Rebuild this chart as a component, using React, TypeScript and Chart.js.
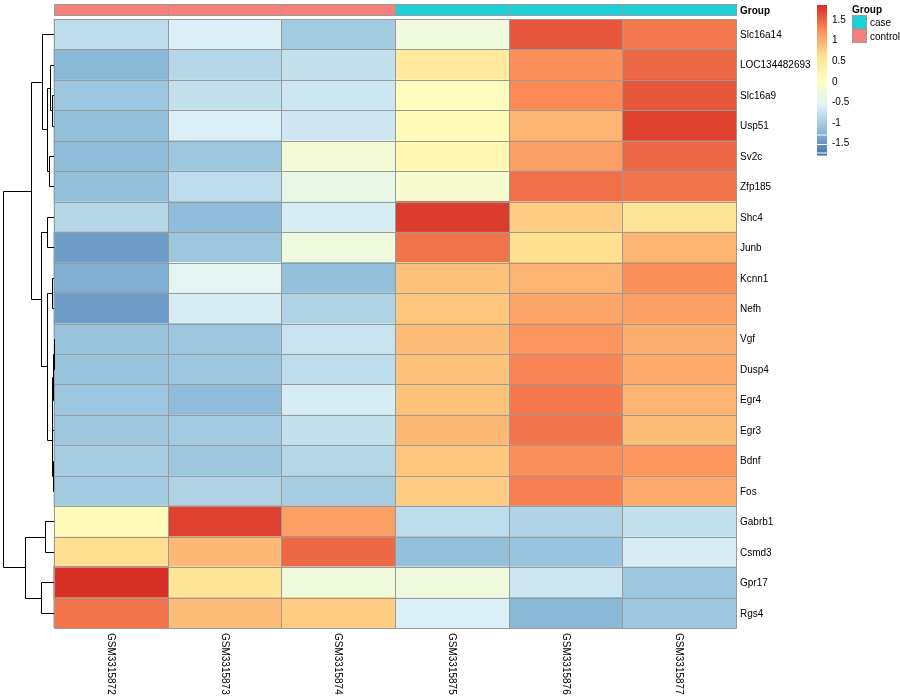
import React, { useEffect, useRef } from 'react';
import { Chart, registerables } from 'chart.js';
Chart.register(...registerables);

// ---------- data ----------
const genes = [
  'Slc16a14', 'LOC134482693', 'Slc16a9', 'Usp51', 'Sv2c', 'Zfp185', 'Shc4', 'Junb', 'Kcnn1', 'Nefh',
  'Vgf', 'Dusp4', 'Egr4', 'Egr3', 'Bdnf', 'Fos', 'Gabrb1', 'Csmd3', 'Gpr17', 'Rgs4',
];
const samples = ['GSM3315872', 'GSM3315873', 'GSM3315874', 'GSM3315875', 'GSM3315876', 'GSM3315877'];
const sampleGroups = ['control', 'control', 'control', 'case', 'case', 'case'];
const groupLevels = ['case', 'control'];
const groupColors = ['#1ED0D7', '#F8807A'];

// row-scaled values, one array per sample (rows in gene order)
const GSM3315872 = [-0.85, -1.25, -1.1, -1.18, -1.2, -1.15, -0.9, -1.45, -1.3, -1.45, -1.12, -1.14, -1.1, -1.08, -1.0, -1.05, 0.07, 0.63, 1.84, 1.38];
const GSM3315873 = [-0.6, -0.9, -0.8, -0.62, -1.1, -0.82, -1.2, -1.08, -0.5, -0.65, -1.08, -1.08, -1.2, -1.05, -1.1, -0.93, 1.7, 0.92, 0.5, 0.88];
const GSM3315874 = [-1.05, -0.8, -0.72, -0.73, -0.2, -0.4, -0.65, -0.3, -1.15, -0.95, -0.78, -0.82, -0.67, -0.8, -0.92, -1.02, 1.1, 1.47, -0.28, 0.78];
const GSM3315875 = [-0.3, 0.45, 0.05, 0.1, 0.2, -0.15, 1.75, 1.38, 0.85, 0.8, 0.88, 0.83, 0.83, 0.92, 0.8, 0.78, -0.85, -1.15, -0.28, -0.6];
const GSM3315876 = [1.58, 1.2, 1.25, 0.95, 1.1, 1.43, 0.75, 0.62, 0.95, 1.05, 1.18, 1.28, 1.35, 1.4, 1.2, 1.3, -0.95, -1.13, -0.73, -1.25];
const GSM3315877 = [1.35, 1.45, 1.55, 1.7, 1.45, 1.4, 0.55, 0.93, 1.22, 1.1, 0.97, 1.02, 0.93, 0.88, 1.18, 1.02, -0.8, -0.65, -1.1, -1.1];
const sampleValues = [GSM3315872, GSM3315873, GSM3315874, GSM3315875, GSM3315876, GSM3315877];

// colour scale
const palette = ['#4575B4', '#91BFDB', '#E0F3F8', '#FFFFBF', '#FEE090', '#FC8D59', '#D73027'];
const VMIN = -1.8;
const VMAX = 1.84;
const legendTicks = [-1.5, -1, -0.5, 0, 0.5, 1, 1.5];

// row dendrogram: [left, right, height]; negative = leaf -(rowIndex+1), positive = earlier merge (1-based)
const rowMerges: [number, number, number][] = [
  [-11, -12, 0.06],
  [1, -13, 0.14],
  [-15, -16, 0.2],
  [2, -14, 0.3],
  [-3, -4, 0.4],
  [-9, -10, 0.42],
  [4, 3, 0.44],
  [-2, 5, 0.8],
  [-5, -6, 0.94],
  [-7, -8, 1.44],
  [6, 7, 1.46],
  [8, 9, 1.46],
  [-17, -18, 1.8],
  [-1, 12, 2.26],
  [10, 11, 2.6],
  [-19, -20, 2.6],
  [14, 15, 4.6],
  [13, 16, 5.6],
  [17, 18, 10],
];

// ---------- helpers ----------
const FONT = '"Liberation Sans", Arial, Helvetica, sans-serif';
const DENDRO_SPAN = 0.4487; // width of the dendrogram region in column units
const GRID = '#9a9a9a';

function hexToRgb(h: string) {
  const n = parseInt(h.slice(1), 16);
  return [(n >> 16) & 255, (n >> 8) & 255, n & 255];
}
const paletteRgb = palette.map(hexToRgb);
function colorFor(v: number) {
  let t = (v - VMIN) / (VMAX - VMIN);
  t = Math.max(0, Math.min(1, t));
  t = Math.min(99, Math.floor(t * 100)) / 99;
  const s = t * (paletteRgb.length - 1);
  const i = Math.min(paletteRgb.length - 2, Math.floor(s));
  const f = s - i;
  const a = paletteRgb[i], b = paletteRgb[i + 1];
  const c = a.map((x, k) => Math.round(x + (b[k] - x) * f));
  return `rgb(${c[0]},${c[1]},${c[2]})`;
}

const extrasPlugin = {
  id: 'heatmapExtras',
  afterDatasetsDraw(chart: any) {
    const ctx: CanvasRenderingContext2D = chart.ctx;
    const xs = chart.scales.x;
    const ys = chart.scales.y;
    const area = chart.chartArea;
    const crisp = (v: number) => Math.round(v) + 0.5;
    ctx.save();

    // ---- cell borders ----
    const gx0 = crisp(xs.getPixelForValue(0)), gx1 = crisp(xs.getPixelForValue(samples.length));
    const gy0 = crisp(ys.getPixelForValue(-0.5)), gy1 = crisp(ys.getPixelForValue(genes.length - 0.5));
    ctx.strokeStyle = GRID;
    ctx.lineWidth = 1;
    ctx.beginPath();
    for (let j = 0; j <= samples.length; j++) {
      const x = crisp(xs.getPixelForValue(j));
      ctx.moveTo(x, gy0);
      ctx.lineTo(x, gy1);
    }
    for (let i = 0; i <= genes.length; i++) {
      const y = crisp(ys.getPixelForValue(i - 0.5));
      ctx.moveTo(gx0, y);
      ctx.lineTo(gx1, y);
    }
    ctx.stroke();

    // ---- dendrogram ----
    const maxH = Math.max(...rowMerges.map((m) => m[2]));
    const hx = (h: number) => crisp(xs.getPixelForValue((-DENDRO_SPAN * h) / maxH));
    const nodeY: number[] = [];
    const nodeH: number[] = [];
    const pos = (r: number) => (r < 0 ? { y: ys.getPixelForValue(-r - 1), h: 0 } : { y: nodeY[r - 1], h: nodeH[r - 1] });
    ctx.strokeStyle = '#000';
    ctx.beginPath();
    rowMerges.forEach(([a, b, h], k) => {
      const A = pos(a), B = pos(b);
      const xn = hx(h);
      const ya = crisp(A.y), yb = crisp(B.y);
      ctx.moveTo(A.h === 0 ? gx0 - 0.5 : hx(A.h), ya);
      ctx.lineTo(xn, ya);
      ctx.lineTo(xn, yb);
      ctx.lineTo(B.h === 0 ? gx0 - 0.5 : hx(B.h), yb);
      nodeY[k] = (A.y + B.y) / 2;
      nodeH[k] = h;
    });
    ctx.stroke();

    // ---- annotation bar ----
    const annTop = area.top - 14.5;
    const annH = 11;
    samples.forEach((s, j) => {
      const x0 = crisp(xs.getPixelForValue(j)), x1 = crisp(xs.getPixelForValue(j + 1));
      ctx.fillStyle = groupColors[groupLevels.indexOf(sampleGroups[j])];
      ctx.fillRect(x0, annTop, x1 - x0, annH);
      ctx.strokeStyle = GRID;
      ctx.strokeRect(x0, annTop, x1 - x0, annH);
    });

    // ---- row labels ----
    ctx.fillStyle = '#000';
    ctx.font = `10px ${FONT}`;
    ctx.textAlign = 'left';
    ctx.textBaseline = 'middle';
    const labX = area.right + 4;
    genes.forEach((g, i) => ctx.fillText(g, labX, ys.getPixelForValue(i) + 1));
    ctx.font = `bold 10px ${FONT}`;
    ctx.fillText('Group', labX, annTop + annH / 2 + 1);

    // ---- column labels ----
    ctx.font = `10px ${FONT}`;
    samples.forEach((s, j) => {
      const cx = xs.getPixelForValue(j + 0.5);
      ctx.save();
      ctx.translate(cx, area.bottom + 5);
      ctx.rotate(Math.PI / 2);
      ctx.textAlign = 'left';
      ctx.textBaseline = 'middle';
      ctx.fillText(s, 0, 0);
      ctx.restore();
    });

    // ---- colour legend ----
    const lx = 817, lw = 10, ltop = 5, lbot = 155;
    const vy = (v: number) => ltop + ((VMAX - v) / (VMAX - VMIN)) * (lbot - ltop);
    const steps = 100;
    for (let k = 0; k < steps; k++) {
      const v0 = VMAX - ((VMAX - VMIN) * k) / steps;
      const v1 = VMAX - ((VMAX - VMIN) * (k + 1)) / steps;
      const y0 = vy(v0), y1 = vy(v1);
      ctx.fillStyle = colorFor((v0 + v1) / 2);
      ctx.fillRect(lx, y0, lw, y1 - y0 + 0.6);
    }
    ctx.fillStyle = '#fff';
    [134.5, 144, 152.5].forEach((y) => ctx.fillRect(lx, y, lw, 1));
    ctx.fillStyle = '#000';
    ctx.font = `10px ${FONT}`;
    ctx.textAlign = 'left';
    ctx.textBaseline = 'middle';
    legendTicks.forEach((t) => ctx.fillText(String(t), lx + 15, vy(t) + 1));

    // ---- group legend ----
    const gx = 852;
    ctx.font = `bold 10px ${FONT}`;
    ctx.fillText('Group', gx, 10);
    ctx.font = `10px ${FONT}`;
    groupLevels.forEach((lv, k) => {
      const by = 15 + k * 14;
      ctx.fillStyle = groupColors[k];
      ctx.fillRect(gx, by, 15, 13);
      ctx.strokeStyle = GRID;
      ctx.strokeRect(gx + 0.5, by + 0.5, 14, 13);
      ctx.fillStyle = '#000';
      ctx.fillText(lv, gx + 18, by + 8);
    });

    ctx.restore();
  },
};

export default function App() {
  const ref = useRef<HTMLCanvasElement | null>(null);
  useEffect(() => {
    document.body.style.margin = '0';
    const canvas = ref.current;
    if (!canvas) return;
    const chart = new Chart(canvas, {
      type: 'bar',
      data: {
        labels: genes,
        datasets: samples.map((s, j) => ({
          label: s,
          data: genes.map(() => [j, j + 1]) as any,
          backgroundColor: sampleValues[j].map(colorFor),
          borderWidth: 0,
          borderSkipped: false,
          grouped: false,
          barPercentage: 1,
          categoryPercentage: 1,
          inflateAmount: 0.5,
        })),
      },
      options: {
        indexAxis: 'y',
        animation: false,
        responsive: false,
        devicePixelRatio: 1,
        events: [],
        layout: { padding: { left: 3, top: 19, right: 164, bottom: 72 } },
        scales: {
          x: { type: 'linear', min: -DENDRO_SPAN, max: 6, display: false },
          y: { type: 'category', display: false, offset: true },
        },
        plugins: { legend: { display: false }, tooltip: { enabled: false } },
      } as any,
      plugins: [extrasPlugin],
    });
    return () => chart.destroy();
  }, []);
  return (
    <div style={{ width: 900, height: 700, background: '#fff' }}>
      <canvas ref={ref} width={900} height={700} style={{ display: 'block' }} />
    </div>
  );
}
